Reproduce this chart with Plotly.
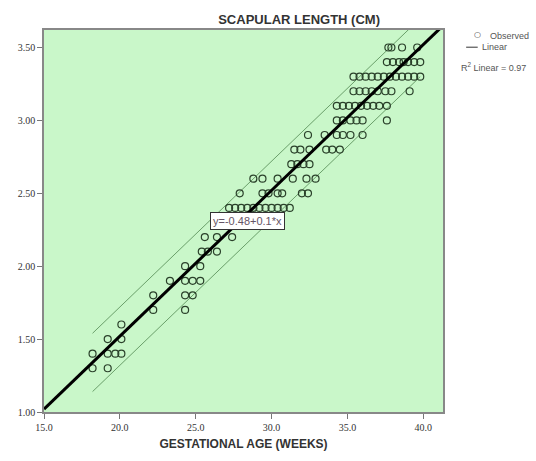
import plotly.graph_objects as go
import numpy as np

# ---- data ----
rows = {
    1.3: [18.2, 19.2],
    1.4: [18.2, 19.2, 19.7, 20.1],
    1.5: [19.2, 20.1],
    1.6: [20.1],
    1.7: [22.2, 24.3],
    1.8: [22.2, 24.3, 24.8],
    1.9: [23.3, 24.3, 24.8, 25.3],
    2.0: [24.3, 25.3],
    2.1: [25.4, 25.8, 26.4],
    2.2: [25.6, 26.4, 27.4],
    2.3: [27.9, 28.6],
    2.4: [27.2, 27.6, 28.0, 28.4, 28.8, 29.2, 29.6, 30.0, 30.4, 30.8, 31.2],
    2.5: [27.9, 29.4, 29.8, 30.4, 30.7, 32.0, 32.4],
    2.6: [28.8, 29.4, 30.4, 31.4, 32.3, 32.9],
    2.7: [31.3, 31.7, 32.1, 32.5],
    2.8: [31.5, 31.9, 32.5, 33.6, 34.0, 34.5],
    2.9: [32.4, 33.5, 34.3, 34.7, 35.2, 36.0],
    3.0: [34.3, 34.7, 35.2, 35.6, 36.0, 37.6],
    3.1: [34.3, 34.7, 35.1, 35.5, 35.9, 36.3, 36.7, 37.1, 37.6],
    3.2: [35.4, 35.8, 36.2, 36.6, 37.0, 37.5, 37.9, 39.1],
    3.3: [35.4, 35.8, 36.2, 36.6, 37.0, 37.4, 37.8, 38.2, 38.6, 39.0, 39.4, 39.8],
    3.4: [37.6, 38.0, 38.4, 38.7, 39.0, 39.4, 39.8],
    3.5: [37.7, 37.9, 38.6, 39.6],
}
gest_age = [x for v, xs in rows.items() for x in xs]
scap_len = [v for v, xs in rows.items() for x in xs]

intercept = -0.48
slope = 0.1
pi_half = 0.2
r2_text = "R<sup>2</sup> Linear = 0.97"
eq_text = "y=-0.48+0.1*x"

x_range = [15.0, 41.3]
y_range = [1.0, 3.62]
x_ticks = [15.0, 20.0, 25.0, 30.0, 35.0, 40.0]
y_ticks = [1.00, 1.50, 2.00, 2.50, 3.00, 3.50]

fig = go.Figure()

# prediction interval lines
xp = np.array([min(gest_age), max(gest_age)])
for sgn in (1, -1):
    fig.add_trace(go.Scatter(
        x=xp, y=intercept + slope * xp + sgn * pi_half, mode="lines",
        line=dict(color="#6a9f6a", width=1), hoverinfo="skip", showlegend=False))

# observed points
fig.add_trace(go.Scatter(
    x=gest_age, y=scap_len, mode="markers",
    marker=dict(symbol="circle-open", size=7, color="#2a402a", line=dict(width=1.2)),
    showlegend=False))

# fit line
xf = np.array(x_range)
fig.add_trace(go.Scatter(
    x=xf, y=intercept + slope * xf, mode="lines",
    line=dict(color="black", width=3), hoverinfo="skip", showlegend=False))

tickfont = dict(family="Liberation Serif, Times New Roman, serif", size=10, color="#333")

fig.update_xaxes(range=x_range, tickvals=x_ticks, ticktext=[f"{t:.1f}" for t in x_ticks],
                 showgrid=False, zeroline=False, ticks="outside", ticklen=5, tickcolor="#777",
                 showline=True, linecolor="#888", linewidth=1.5, mirror=True, tickfont=tickfont,
                 title=dict(text="<b>GESTATIONAL AGE (WEEKS)</b>", standoff=8,
                            font=dict(family="Liberation Sans, Arial", size=12, color="#333")))
fig.update_yaxes(range=y_range, tickvals=y_ticks, ticktext=[f"{t:.2f}" for t in y_ticks],
                 showgrid=False, zeroline=False, ticks="outside", ticklen=5, tickcolor="#777",
                 showline=True, linecolor="#888", linewidth=1.5, mirror=True, tickfont=tickfont)

fig.update_layout(
    width=536, height=461,
    margin=dict(l=44, r=93, t=30, b=47),
    plot_bgcolor="#c9f7c9", paper_bgcolor="white",
    title=dict(text="<b>SCAPULAR LENGTH (CM)</b>", x=0.558, xanchor="center",
               y=0.957, yanchor="middle", yref="container",
               font=dict(family="Liberation Sans, Arial", size=13, color="#333")),
    showlegend=False,
)

# equation label
fig.add_annotation(x=28.4, y=2.31, xref="x", yref="y", text=eq_text, showarrow=False,
                   font=dict(family="Liberation Sans, Arial", size=11, color="#665566"),
                   bgcolor="white", bordercolor="#333", borderwidth=1, borderpad=2)

# custom legend
legfont = dict(family="Liberation Sans, Arial", size=9, color="#555")
fig.add_annotation(x=1.087, y=0.988, xref="paper", yref="paper", text="\u25cb", showarrow=False,
                   font=dict(family="DejaVu Sans", size=8, color="#444"),
                   xanchor="center", yanchor="middle")
fig.add_annotation(x=1.113, y=0.985, xref="paper", yref="paper", text="Observed", showarrow=False,
                   font=legfont, xanchor="left", yanchor="middle")
fig.add_shape(type="line", x0=1.058, x1=1.087, y0=0.955, y1=0.955, xref="paper", yref="paper",
              line=dict(color="#333", width=1))
fig.add_annotation(x=1.092, y=0.955, xref="paper", yref="paper", text="Linear", showarrow=False,
                   font=legfont, xanchor="left", yanchor="middle")
fig.add_annotation(x=1.04, y=0.903, xref="paper", yref="paper", text=r2_text, showarrow=False,
                   font=dict(family="Liberation Sans, Arial", size=9, color="#555"),
                   xanchor="left", yanchor="middle")

fig.write_html("out.html", config={"displayModeBar": False},
               post_script="document.body.style.margin='0px';")
